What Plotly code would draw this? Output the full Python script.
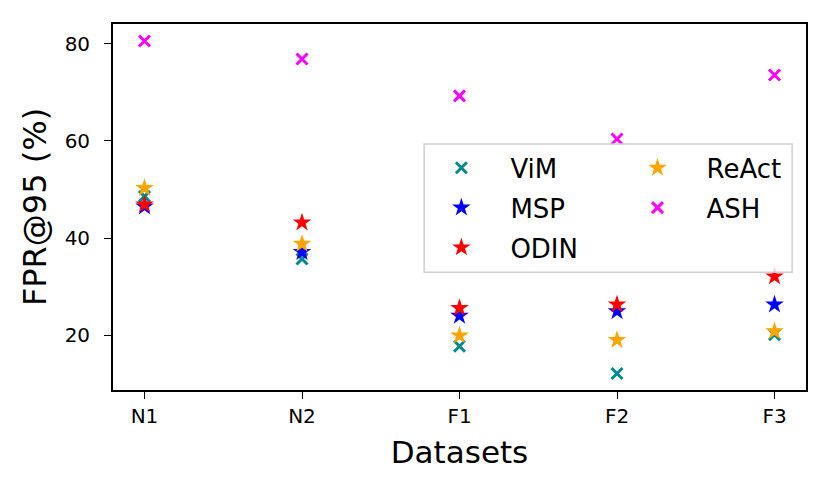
import plotly.graph_objects as go

# données (FPR@95 en %)
datasets = ["N1", "N2", "F1", "F2", "F3"]
vim = [48.6, 35.7, 17.7, 12.1, 20.1]
msp = [46.5, 37.1, 24.0, 24.9, 26.3]
odin = [46.9, 43.2, 25.6, 26.3, 32.1]
react = [50.3, 38.8, 19.9, 19.0, 20.8]
ash = [80.6, 76.9, 69.3, 60.4, 73.6]

series = [
    # nom, valeurs, symbole, couleur, légende (colonne 1 ou 2)
    ("ViM", vim, "x-thin", "#008B8B", "legend"),
    ("MSP", msp, "star", "blue", "legend"),
    ("ODIN", odin, "star", "red", "legend"),
    ("ReAct", react, "star", "orange", "legend2"),
    ("ASH", ash, "x-thin", "magenta", "legend2"),
]

fig = go.Figure()
for name, vals, sym, col, leg in series:
    if sym == "x-thin":
        marker = dict(symbol=sym, size=11, color=col, line=dict(color=col, width=3))
    else:
        marker = dict(symbol=sym, size=14, color=col, line=dict(width=0))
    fig.add_trace(go.Scatter(
        x=datasets, y=vals, mode="markers", name=name,
        marker=marker, legend=leg, legendgroup=name,
    ))

axis_style = dict(
    showline=True, linecolor="black", linewidth=1.8, mirror=True,
    ticks="outside", ticklen=7, tickwidth=1.4, tickcolor="black",
    showgrid=False, zeroline=False, automargin=False,
    tickfont=dict(family="DejaVu Sans", size=20, color="black"),
)

fig.update_xaxes(axis_style, range=[-0.2, 4.2],
                 title=dict(text="Datasets", font=dict(size=31), standoff=14))
fig.update_yaxes(axis_style, range=[8.7, 84.1], tickvals=[20, 40, 60, 80],
                 ticklabelstandoff=10,
                 title=dict(text="FPR@95 (%)", font=dict(size=32), standoff=8))

# cadre de la légende (style matplotlib, semi-transparent)
fig.add_shape(type="rect", xref="paper", yref="paper",
              x0=0.449, x1=0.98, y0=0.322, y1=0.672, layer="above",
              fillcolor="rgba(255,255,255,0.8)",
              line=dict(color="#d0d0d0", width=1.5))

leg_style = dict(
    yanchor="top", xanchor="left", y=0.671,
    itemwidth=88, tracegroupgap=3,
    font=dict(size=26), bgcolor="rgba(0,0,0,0)", borderwidth=0,
)

fig.update_layout(
    width=822, height=490,
    margin=dict(l=105, r=24, t=16, b=108),
    paper_bgcolor="white", plot_bgcolor="white",
    font=dict(family="DejaVu Sans", color="black"),
    showlegend=True,
    legend=dict(leg_style, x=0.432),
    legend2=dict(leg_style, x=0.715),
)

fig.write_html("out.html")
